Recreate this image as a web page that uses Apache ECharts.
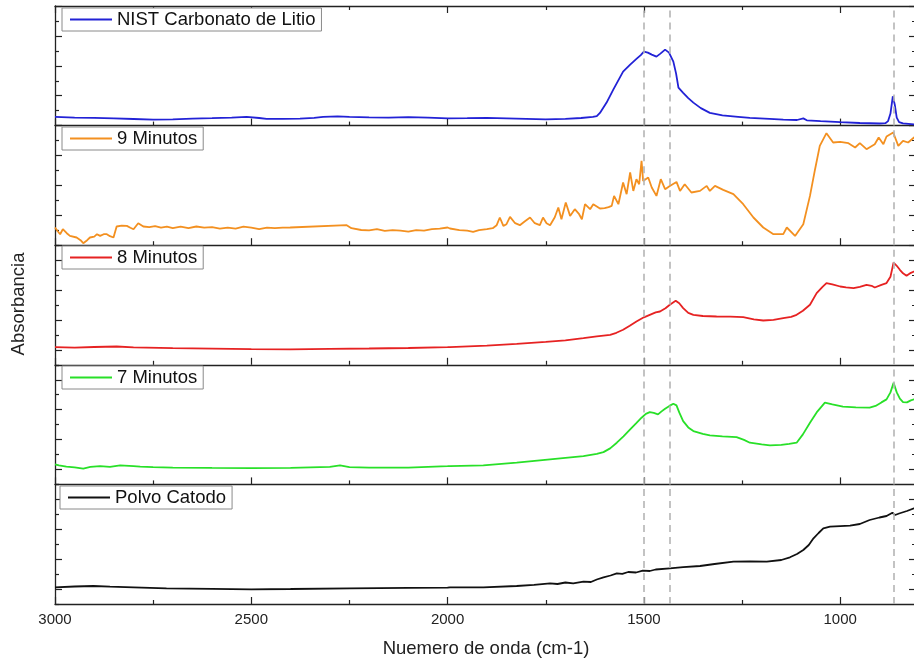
<!DOCTYPE html>
<html><head><meta charset="utf-8">
<script src="https://cdn.jsdelivr.net/npm/echarts@6.0.0/dist/echarts.min.js"></script>
<style>html,body{margin:0;padding:0;background:#fff}#c{width:914px;height:663px}</style>
</head><body><div id="c"></div>
<script>
// ---- data (wavenumber cm-1, absorbance in arbitrary units per panel) ----
const seriesNames = ['NIST Carbonato de Litio', '9 Minutos', '8 Minutos', '7 Minutos', 'Polvo Catodo'];
const seriesColors = ['#2222d6', '#f39020', '#e62222', '#28e028', '#111111'];
const dashedLines = [1500, 1434, 864];
const xTickLabels = [3000, 2500, 2000, 1500, 1000];
const xTitle = 'Nuemero de onda (cm-1)';
const yTitle = 'Absorbancia';

const nist = [[3000,8.7],[2950,8.0],[2900,7.8],[2850,7.2],[2800,6.6],[2750,6.0],[2700,6.3],[2650,7.0],[2600,7.4],[2550,8.0],[2512,8.7],[2480,7.6],[2461,6.7],[2420,6.8],[2376,7.0],[2340,7.8],[2317,8.7],[2280,9.3],[2250,8.8],[2200,8.2],[2150,8.0],[2100,8.4],[2050,8.0],[2000,7.2],[1950,7.4],[1900,7.8],[1850,7.3],[1800,6.8],[1750,6.3],[1700,6.8],[1660,7.6],[1630,8.8],[1620,9.5],[1612,12.7],[1595,23],[1578,36],[1553,54],[1535,61],[1519,66.7],[1508,70.5],[1500,74],[1490,73],[1480,71],[1468,69],[1458,72],[1446,76],[1436,73],[1425,64],[1418,52],[1412,38],[1400,32.7],[1387,27.5],[1374,23],[1355,17.5],[1332,12.7],[1300,10.2],[1260,8.8],[1230,7.7],[1180,6.8],[1145,6.0],[1110,5.6],[1094,7.2],[1085,5.3],[1050,4.5],[1000,3.4],[950,2.6],[900,2.1],[885,2.4],[878,4.5],[872,12],[866,29.3],[861,21],[856,8],[850,3.5],[840,2.2],[812,1.2],[807,1.2]];

const min9 = [[3000,17.7],[2993,14],[2987,11],[2980,16],[2970,12],[2962,9.3],[2945,7.7],[2935,5],[2928,2],[2918,5],[2911,7.7],[2900,8.5],[2893,11],[2885,9.3],[2876,11],[2868,11],[2860,9],[2851,7.7],[2843,18.7],[2830,19.5],[2817,19.3],[2808,17.5],[2800,16],[2788,22],[2775,18.7],[2760,18],[2745,19],[2730,17.5],[2715,18.5],[2700,17],[2680,18.5],[2660,17],[2640,18.7],[2620,17.5],[2600,18],[2580,16.5],[2560,17.5],[2540,16.5],[2520,18.5],[2500,17.5],[2480,16],[2460,17.5],[2440,17],[2420,17.5],[2401,17.7],[2257,20],[2245,17],[2240,16.7],[2220,15.2],[2200,14.8],[2180,16],[2160,14.3],[2140,15],[2120,14.5],[2100,13.5],[2080,15],[2060,14.5],[2040,16],[2020,16.5],[2000,17.7],[1994,16.7],[1970,15],[1950,14.5],[1935,13.3],[1920,15],[1900,16],[1885,17],[1875,20],[1867,27.7],[1858,19.3],[1850,21],[1841,28.3],[1828,22],[1816,20],[1803,24],[1790,27.7],[1778,22],[1765,20],[1757,27.7],[1748,22],[1739,20],[1727,28],[1718,37.7],[1710,26],[1699,42.7],[1688,29.3],[1676,36],[1665,31],[1658,26],[1650,41],[1637,36],[1629,41],[1612,36.7],[1600,37],[1590,38],[1582,39.3],[1576,49.3],[1565,41],[1553,62.7],[1544,51],[1535,72.7],[1527,54.3],[1519,66],[1512,61],[1506,84.3],[1502,64.3],[1489,67.7],[1480,57.7],[1468,49.3],[1457,66],[1446,56],[1434,59.3],[1417,63.3],[1408,54.3],[1396,61],[1379,52.7],[1357,54.3],[1340,59.3],[1332,54.3],[1319,59.3],[1298,55.3],[1272,51],[1247,41],[1221,27.7],[1196,17.7],[1170,11],[1145,11],[1136,17.7],[1115,9.3],[1094,21],[1077,49.3],[1064,76],[1052,99.3],[1035,112],[1018,102.7],[1000,103.3],[979,102],[962,97.7],[950,102],[933,96],[912,101],[902,107.7],[890,101],[882,108.7],[865,112.7],[852,99.3],[840,104.3],[827,102.7],[812,107.7],[807,108]];

const min8 = [[3000,17.7],[2950,17.2],[2900,17.8],[2843,18.3],[2800,17.5],[2700,16.6],[2600,16.2],[2500,15.7],[2400,15.4],[2300,15.9],[2200,16.3],[2100,16.8],[2000,17.6],[1994,17.7],[1900,19.2],[1824,21],[1750,23],[1700,24.5],[1654,26.7],[1620,28.5],[1586,30],[1570,32],[1553,35],[1536,39],[1519,43.3],[1500,47.5],[1485,50],[1470,52.5],[1459,53.3],[1445,56.5],[1434,60],[1419,64],[1410,61.5],[1400,56.7],[1387,52],[1374,50],[1350,48.8],[1315,48.3],[1280,48.2],[1247,47.7],[1220,45.5],[1196,44.3],[1170,45],[1145,46.7],[1125,48],[1111,50],[1095,54],[1077,60],[1060,71.7],[1045,78],[1035,81.7],[1020,80.5],[1000,78.3],[985,77.5],[966,76.7],[950,78],[933,80],[920,79],[912,77.3],[895,80],[882,81.7],[872,88],[864,102.3],[856,99],[848,95],[840,91.5],[831,89],[820,92],[812,93.3],[807,94]];

const min7 = [[3000,20],[2990,19],[2971,17.7],[2950,17],[2928,15.7],[2910,17.5],[2885,18.3],[2860,17.5],[2834,19],[2800,18.3],[2783,17.7],[2750,17.2],[2700,16.8],[2600,16.5],[2500,16.3],[2400,16.5],[2300,17.5],[2274,19],[2250,17.3],[2200,16.8],[2100,16.8],[2000,18.2],[1994,18.3],[1909,19],[1824,21.7],[1739,25],[1700,26.5],[1654,28.3],[1620,30.5],[1603,32.3],[1586,36],[1569,41.7],[1552,48],[1535,55],[1520,61],[1506,66.7],[1495,70.5],[1485,72.3],[1475,71.5],[1464,70],[1455,73],[1446,75.7],[1435,78.5],[1425,80.7],[1417,79],[1410,72],[1400,63.3],[1387,57],[1374,53.3],[1350,50.5],[1332,49],[1300,48],[1264,47.3],[1245,44.5],[1230,41.7],[1200,40],[1179,39],[1150,39.5],[1130,40.5],[1111,41.7],[1095,50],[1077,61.7],[1060,72],[1039,81.7],[1020,80],[993,77.7],[960,77],[925,76.7],[910,78.5],[895,82],[882,85],[872,92],[864,101.7],[856,92],[848,85.7],[840,82.3],[830,82],[820,84],[812,85],[807,85.5]];

const polvo = [[3000,16.7],[2950,17.5],[2902,18],[2860,17.3],[2800,16.6],[2716,15.7],[2600,15.2],[2500,14.7],[2400,15],[2249,15.7],[2100,16.1],[2000,16.3],[1994,16.7],[1909,16.7],[1824,18],[1780,19.2],[1739,20.7],[1720,20],[1700,21.5],[1680,20.6],[1654,22.3],[1635,22],[1620,24.5],[1603,26.7],[1585,28.5],[1569,30.7],[1555,30.2],[1540,32],[1520,31.5],[1503,33.3],[1485,33],[1470,34.5],[1434,35.7],[1400,36.8],[1357,38],[1320,40],[1272,42.3],[1230,42.5],[1187,42.3],[1150,44],[1128,46.7],[1110,50],[1094,54],[1080,59],[1068,65.7],[1055,71],[1043,75.7],[1026,77.3],[1000,77.8],[975,78.3],[950,80],[925,84],[900,86.5],[882,88],[867,91.3],[860,89],[850,90.5],[830,93],[812,95.7],[807,96]];

const seriesData = [nist, min9, min8, min7, polvo];

// ---- layout ----
const FONT = '"Liberation Sans", Arial, sans-serif';
const PANEL_H = 119.6;
const tops = [6, 125.6, 245.2, 364.8, 484.4];
const legendTops = [8, 127, 246, 366, 486];
const legendLefts = [62, 62, 62, 62, 60];
const AX = '#222';

const grid = [], xAxis = [], yAxis = [], series = [], legend = [];
function xAx(i, pos, labels) {
  return {
    type: 'value', gridIndex: i, inverse: true, min: 500, max: 3000, interval: 500, position: pos,
    axisLine: { show: true, onZero: false, lineStyle: { color: AX, width: 1.3 } },
    axisTick: { show: true, inside: true, length: 7, lineStyle: { color: AX, width: 1.2 } },
    minorTick: { show: true, splitNumber: 2, length: 4, lineStyle: { color: AX, width: 1.2 } },
    axisLabel: { show: labels, margin: 8, fontSize: 15, color: AX, fontFamily: FONT,
      formatter: v => (xTickLabels.indexOf(v) >= 0 ? String(v) : '') },
    splitLine: { show: false }, minorSplitLine: { show: false }
  };
}
function yAx(i, pos, majorLen, minorLen, offset) {
  return {
    type: 'value', gridIndex: i, min: 0, max: PANEL_H, interval: PANEL_H / 4, position: pos, offset: offset,
    axisLine: { show: true, onZero: false, lineStyle: { color: AX, width: 1.3 } },
    axisTick: { show: true, inside: true, length: majorLen, lineStyle: { color: AX, width: 1.2 } },
    minorTick: { show: true, splitNumber: 2, length: minorLen, lineStyle: { color: AX, width: 1.2 } },
    axisLabel: { show: false }, splitLine: { show: false }, minorSplitLine: { show: false }
  };
}
for (let i = 0; i < 5; i++) {
  grid.push({ left: 55, width: 981.5, top: tops[i], height: PANEL_H, containLabel: false, outerBoundsMode: 'none' });
  xAxis.push(xAx(i, 'bottom', i === 4));
  const maj = i < 2 ? 7 : 4, mnr = i < 2 ? 4 : 7;
  yAxis.push(yAx(i, 'left', maj, mnr, 0));
}
xAxis.push(xAx(0, 'top', false));
for (let i = 0; i < 5; i++) {
  const maj = i < 2 ? 7 : 4, mnr = i < 2 ? 4 : 7;
  yAxis.push(yAx(i, 'right', maj, mnr, -120.5));
}
for (let i = 0; i < 5; i++) {
  series.push({
    type: 'line', name: seriesNames[i], xAxisIndex: i, yAxisIndex: i,
    data: seriesData[i], symbol: 'none', showSymbol: false, animation: false,
    lineStyle: { color: seriesColors[i], width: 1.8 }, itemStyle: { color: seriesColors[i] },
    markLine: {
      silent: true, symbol: ['none', 'none'], label: { show: false }, animation: false,
      lineStyle: { color: '#b5b5b5', type: [7, 5], width: 1.6 },
      data: dashedLines.map(v => ({ xAxis: v }))
    }
  });
  legend.push({
    data: [{ name: seriesNames[i], icon: 'rect' }], left: legendLefts[i], top: legendTops[i], selectedMode: false,
    itemWidth: 42, itemHeight: 2, padding: [2, 6, 2, 8],
    borderColor: '#8a8a8a', borderWidth: 1, backgroundColor: '#fff',
    itemStyle: { color: seriesColors[i], borderWidth: 0 },
    textStyle: { fontSize: 18.5, color: '#111', fontFamily: FONT, lineHeight: 19 }
  });
}

const chart = echarts.init(document.getElementById('c'), null, { renderer: 'canvas' });
chart.setOption({
  animation: false,
  backgroundColor: '#fff',
  grid, xAxis, yAxis, series, legend,
  graphic: [{
    type: 'text', x: 19, y: 304, rotation: Math.PI / 2,
    style: { text: yTitle, fontSize: 18.5, fontFamily: FONT, fill: AX, align: 'center', verticalAlign: 'middle' }
  }, {
    type: 'text', x: 486, y: 649,
    style: { text: xTitle, fontSize: 18.5, fontFamily: FONT, fill: AX, align: 'center', verticalAlign: 'middle' }
  }]
});
</script></body></html>
